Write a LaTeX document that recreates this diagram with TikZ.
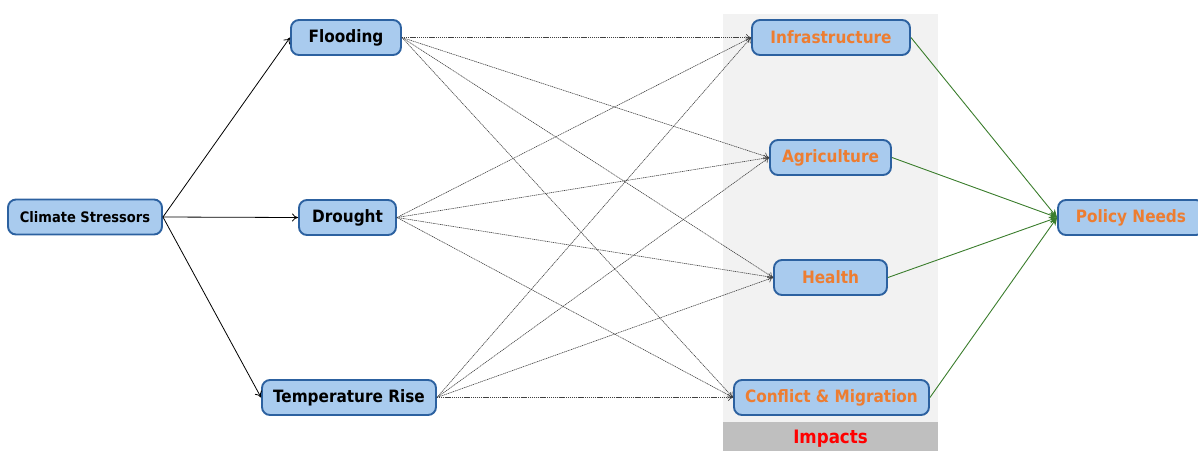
\documentclass[tikz,border=0pt]{standalone}
\usepackage{fontspec}
\setmainfont{DejaVu Sans Condensed}
\usetikzlibrary{arrows.meta}
\definecolor{nodefill}{HTML}{A9CBEE}
\definecolor{nodeedge}{HTML}{2C61A0}
\definecolor{orangetxt}{HTML}{ED7D31}
\definecolor{greenline}{HTML}{3A7D2C}
\definecolor{panel}{HTML}{F2F2F2}
\definecolor{band}{HTML}{BFBFBF}
\begin{document}
\begin{tikzpicture}[x=1pt,y=-1pt,
  box/.style={draw=nodeedge, line width=1.9pt, fill=nodefill, rounded corners=8pt,
    minimum height=35pt, inner sep=0pt, font=\bfseries\fontsize{17}{19}\selectfont},
  stress/.style={box, text=black},
  impact/.style={box, text=orangetxt},
  solidarrow/.style={-{To[length=6pt,width=8pt]}, line width=0.8pt, black},
  dotarrow/.style={-{To[length=5pt,width=7pt]}, line width=0.6pt, black!75, dash pattern=on 1.2pt off 0.7pt},
  greenarrow/.style={-{Stealth[length=8pt,width=7pt]}, line width=0.9pt, greenline}
]
\useasboundingbox (0,0) rectangle (1198,451);
% panel
\fill[panel] (723,14) rectangle (938,422);
\fill[band] (723,422) rectangle (938,451);
\node[font=\bfseries\fontsize{18.5}{20}\selectfont, text=red] (impl) at (830.5,438.5) {Impacts};

% nodes
\node[stress, minimum width=154pt, font=\bfseries\fontsize{14.5}{16}\selectfont] (cs) at (85,217) {Climate Stressors};
\node[stress, minimum width=110pt] (fl) at (346,37.5) {Flooding};
\node[stress, minimum width=97pt] (dr) at (347.5,217.5) {Drought};
\node[stress, minimum width=174pt] (tr) at (349,397.5) {Temperature Rise};

\node[impact, minimum width=158pt] (inf) at (831,37.5) {Infrastructure};
\node[impact, minimum width=121pt] (ag) at (830.5,157.5) {Agriculture};
\node[impact, minimum width=113pt] (he) at (830.5,277.5) {Health};
\node[impact, minimum width=195pt] (co) at (831.5,397.5) {Conflict \& Migration};
\node[impact, minimum width=146pt] (po) at (1131,217.5) {Policy Needs};

% solid arrows
\draw[solidarrow] (cs.east) -- (fl.west);
\draw[solidarrow] (cs.east) -- (dr.west);
\draw[solidarrow] (cs.east) -- (tr.west);

% dotted arrows
\foreach \s in {fl,dr,tr}{
  \foreach \t in {inf,ag,he,co}{
    \draw[dotarrow] (\s.east) -- (\t.west);
  }
}

% green arrows
\foreach \t in {inf,ag,he,co}{
  \draw[greenarrow] (\t.east) -- (po.west);
}
\end{tikzpicture}
\end{document}
